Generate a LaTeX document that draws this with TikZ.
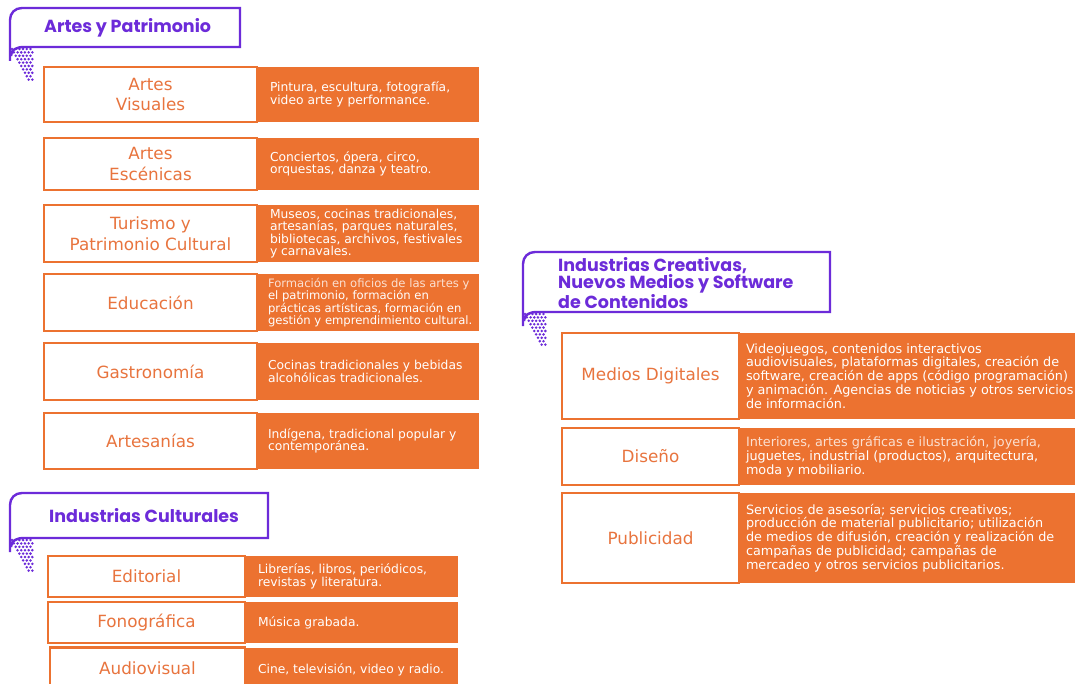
\documentclass[tikz,border=0pt]{standalone}
\usepackage{fontspec}
\setmainfont{DejaVu Sans}
\newfontfamily\headfont{Poppins}
\definecolor{org}{HTML}{EC7230}
\definecolor{orgtxt}{HTML}{E8743E}
\definecolor{pur}{HTML}{6C2BD9}
\colorlet{lighttxt}{white!78!org}
\newcommand\hdrframe[4]{%
  \draw[hframe] ({#1},{#4+14}) -- ({#1},{#2+12}) .. controls ({#1},{#2+5}) and ({#1+5},{#2}) .. ({#1+12},{#2})
    -- ({#3},{#2}) -- ({#3},{#4}) -- ({#1+14},{#4}) .. controls ({#1+6},{#4}) and ({#1+1},{#4+3}) .. ({#1+1},{#4+9});}
\newcommand\hdrdots[2]{%
  \foreach \i in {0,...,9}{%
    \pgfmathtruncatemacro\s{\i/2}%
    \foreach \j in {\s,...,5}{%
      \fill[pur] ({#1+\j*3.7+mod(\i,2)*1.85},{#2+\i*3.4}) circle[radius=1.4];}}}
\begin{document}
\begin{tikzpicture}[x=1pt,y=-1pt,
  lbox/.style={draw=org, line width=2.6pt, fill=white, text=orgtxt, font=\fontsize{16.8}{20.5}\selectfont, align=center, inner sep=0pt},
  dbox/.style={fill=org, inner sep=0pt},
  dtext/.style={text=white, font=\fontsize{12.3}{12.4}\selectfont, align=left, inner sep=0pt, anchor=west},
  dtexts/.style={text=white, font=\fontsize{11.6}{12.4}\selectfont, align=left, inner sep=0pt, anchor=west},
  dtextb/.style={text=white, font=\fontsize{12.8}{13.8}\selectfont, align=left, inner sep=0pt, anchor=west},
  htext/.style={text=pur, font=\headfont\bfseries\fontsize{17.5}{17}\selectfont, align=left, inner sep=0pt, anchor=west},
  hframe/.style={draw=pur, line width=2.4pt, line join=miter}]
\useasboundingbox (0,0) rectangle (1075,684);
\clip (0,0) rectangle (1075,684);
\fill[white] (0,0) rectangle (1075,684);

% ---------- Header 1
\hdrframe{10}{8}{240}{47}
\hdrdots{12}{49}
\node[htext] (h1) at (44,28) {Artes y Patrimonio};

% ---------- Group 1
\foreach \n/\cy/\h in {1/94.5/55, 2/164/52, 3/233.5/57, 4/302.5/57, 5/371.5/57, 6/441/56}{
  \node[dbox, minimum width=222, minimum height=\h] (d\n) at (368,\cy) {};
}
\node[lbox, minimum width=213, minimum height=55] (a1) at (150.5,94.5) {Artes\\Visuales};
\node[lbox, minimum width=213, minimum height=52] (a2) at (150.5,164) {Artes\\Escénicas};
\node[lbox, minimum width=213, minimum height=57] (a3) at (150.5,233.5) {Turismo y\\Patrimonio Cultural};
\node[lbox, minimum width=213, minimum height=57] (a4) at (150.5,302.5) {Educación};
\node[lbox, minimum width=213, minimum height=57] (a5) at (150.5,371.5) {Gastronomía};
\node[lbox, minimum width=213, minimum height=56] (a6) at (150.5,441) {Artesanías};
\node[dtext] (t1) at ([xshift=13]d1.west) {Pintura, escultura, fotografía,\\video arte y performance.};
\node[dtext] (t2) at ([xshift=13]d2.west) {Conciertos, ópera, circo,\\orquestas, danza y teatro.};
\node[dtext] (t3) at ([xshift=13]d3.west) {Museos, cocinas tradicionales,\\artesanías, parques naturales,\\bibliotecas, archivos, festivales\\y carnavales.};
\node[dtexts] (t4) at ([xshift=11]d4.west) {\textcolor{lighttxt}{Formación en oficios de las artes y}\\el patrimonio, formación en\\prácticas artísticas, formación en\\gestión y emprendimiento cultural.};
\node[dtext] (t5) at ([xshift=11]d5.west) {Cocinas tradicionales y bebidas\\alcohólicas tradicionales.};
\node[dtext] (t6) at ([xshift=11]d6.west) {Indígena, tradicional popular y\\contemporánea.};

% ---------- Header 2
\hdrframe{10}{493}{268}{538}
\hdrdots{12}{540}
\node[htext] (h2) at (49,516) {Industrias Culturales};

% ---------- Group 2
\foreach \n/\cy in {7/576.5, 8/622.5, 9/668}{
  \node[dbox, minimum width=213, minimum height=41] (d\n) at (351.5,\cy) {};
}
\node[lbox, minimum width=197, minimum height=41] (a7) at (146.5,576.5) {Editorial};
\node[lbox, minimum width=197, minimum height=41] (a8) at (146.5,622.5) {Fonográfica};
\node[lbox, minimum width=195, minimum height=41] (a9) at (147.5,668) {Audiovisual};
\node[dtext] (t7) at ([xshift=13]d7.west) {Librerías, libros, periódicos,\\revistas y literatura.};
\node[dtext] (t8) at ([xshift=13]d8.west) {Música grabada.};
\node[dtext] (t9) at ([xshift=13,yshift=-2]d9.west) {Cine, televisión, video y radio.};

% ---------- Header 3
\hdrframe{523}{252}{830}{312}
\hdrdots{525}{314}
\node[htext] (h3) at (558,283) {Industrias Creativas,\\Nuevos Medios y Software\\de Contenidos};

% ---------- Group 3
\node[dbox, minimum width=336, minimum height=86] (d10) at (907,376) {};
\node[dbox, minimum width=336, minimum height=57] (d11) at (907,456.5) {};
\node[dbox, minimum width=336, minimum height=90] (d12) at (907,538) {};
\node[lbox, minimum width=177, minimum height=86] (a10) at (650.5,376) {Medios Digitales};
\node[lbox, minimum width=177, minimum height=57] (a11) at (650.5,456.5) {Diseño};
\node[lbox, minimum width=177, minimum height=90] (a12) at (650.5,538) {Publicidad};
\node[dtextb] (t10) at ([xshift=7]d10.west) {Videojuegos, contenidos interactivos\\audiovisuales, plataformas digitales, creación de\\software, creación de apps (código programación)\\y animación. Agencias de noticias y otros servicios\\de información.};
\node[dtextb] (t11) at ([xshift=7]d11.west) {\textcolor{lighttxt}{Interiores, artes gráficas e ilustración, joyería,}\\juguetes, industrial (productos), arquitectura,\\moda y mobiliario.};
\node[dtextb] (t12) at ([xshift=7]d12.west) {Servicios de asesoría; servicios creativos;\\producción de material publicitario; utilización\\de medios de difusión, creación y realización de\\campañas de publicidad; campañas de\\mercadeo y otros servicios publicitarios.};
\end{tikzpicture}
\end{document}
